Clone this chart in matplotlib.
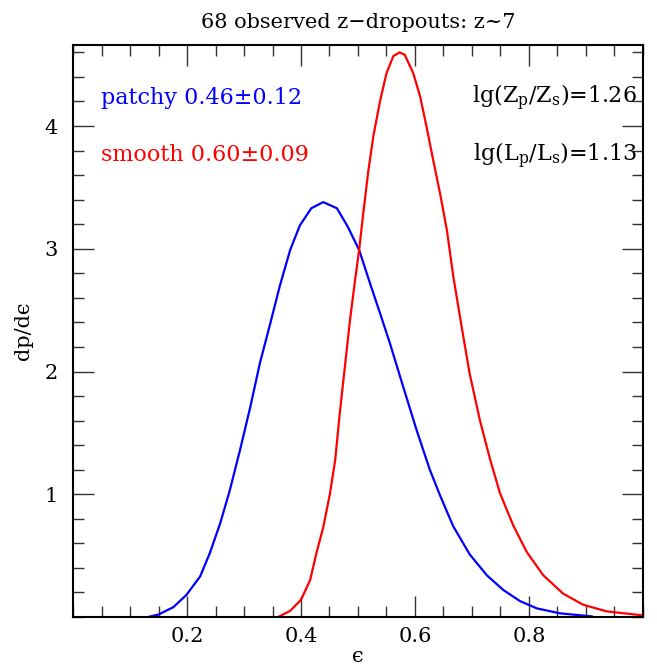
import matplotlib
matplotlib.use("Agg")
import matplotlib.pyplot as plt
from matplotlib.ticker import MultipleLocator, FixedLocator

plt.rcParams["font.family"] = ["DejaVu Serif", "DejaVu Sans"]
plt.rcParams["mathtext.fontset"] = "dejavuserif"

# values
eps_patchy = [0.132, 0.150, 0.176, 0.199, 0.223, 0.240, 0.258, 0.275, 0.293, 0.311,
              0.328, 0.346, 0.363, 0.381, 0.398, 0.418, 0.439, 0.463, 0.482, 0.502,
              0.521, 0.539, 0.556, 0.579, 0.603, 0.626, 0.644, 0.667, 0.696, 0.726,
              0.755, 0.784, 0.814, 0.854, 0.910]
dp_patchy = [0.0, 0.02, 0.08, 0.18, 0.33, 0.52, 0.76, 1.03, 1.36, 1.71,
             2.07, 2.39, 2.70, 2.99, 3.19, 3.33, 3.38, 3.33, 3.18, 2.99,
             2.72, 2.47, 2.23, 1.88, 1.52, 1.20, 0.99, 0.74, 0.51, 0.34,
             0.22, 0.13, 0.07, 0.03, 0.005]

eps_smooth = [0.360, 0.381, 0.400, 0.416, 0.427, 0.439, 0.451, 0.460, 0.468, 0.477,
              0.486, 0.495, 0.502, 0.509, 0.518, 0.527, 0.539, 0.550, 0.562, 0.573,
              0.582, 0.597, 0.609, 0.620, 0.632, 0.644, 0.656, 0.667, 0.682, 0.696,
              0.714, 0.732, 0.749, 0.772, 0.796, 0.825, 0.860, 0.895, 0.936, 1.0]
dp_smooth = [0.0, 0.05, 0.14, 0.30, 0.52, 0.73, 1.01, 1.28, 1.66, 2.04,
             2.42, 2.75, 2.99, 3.28, 3.63, 3.92, 4.21, 4.43, 4.57, 4.60,
             4.58, 4.43, 4.24, 4.00, 3.72, 3.45, 3.15, 2.78, 2.36, 1.98,
             1.60, 1.28, 1.01, 0.75, 0.53, 0.34, 0.19, 0.10, 0.046, 0.013]

xticks = [0.2, 0.4, 0.6, 0.8]
yticks = [1, 2, 3, 4]

fig = plt.figure(figsize=(6.57, 6.67), dpi=100)
ax = fig.add_axes([73/657, 1 - 617/667, 570/657, 572/667])

ax.plot(eps_patchy, dp_patchy, color="#0000ff", lw=1.6)
ax.plot(eps_smooth, dp_smooth, color="#ff0000", lw=1.6)

ax.set_xlim(0, 1.0)
ax.set_ylim(0, 4.66)
ax.xaxis.set_major_locator(FixedLocator(xticks))
ax.yaxis.set_major_locator(FixedLocator(yticks))
ax.xaxis.set_minor_locator(MultipleLocator(0.05))
ax.yaxis.set_minor_locator(MultipleLocator(0.2))
ax.set_xticklabels([f"{t:.1f}" for t in xticks])
ax.set_yticklabels([str(t) for t in yticks])
ax.tick_params(which="both", direction="in", top=True, right=True,
               color="#333333", width=1.0, labelsize=15)
ax.tick_params(which="major", length=15)
ax.tick_params(axis="x", which="major", pad=7)
ax.tick_params(axis="y", which="major", pad=11)
ax.tick_params(which="minor", length=8)
for s in ax.spines.values():
    s.set_linewidth(1.5)

ax.set_xlabel("\u03f5", fontsize=15, labelpad=1)
ax.set_ylabel("dp/d\u03f5", fontsize=15, labelpad=8)
ax.set_title("68 observed z\u2212dropouts: z~7", fontsize=15, pad=12)

ax.text(0.049, 4.23, "patchy 0.46\u00b10.12", color="#0000ff", fontsize=16,
        va="center", ha="left")
ax.text(0.049, 3.76, "smooth 0.60\u00b10.09", color="#ff0000", fontsize=16,
        va="center", ha="left")
ax.text(0.989, 4.23, r"lg(Z$_{\rm p}$/Z$_{\rm s}$)=1.26", color="black", fontsize=16,
        va="center", ha="right")
ax.text(0.989, 3.76, r"lg(L$_{\rm p}$/L$_{\rm s}$)=1.13", color="black", fontsize=16,
        va="center", ha="right")

fig.savefig("out.png", dpi=100)
